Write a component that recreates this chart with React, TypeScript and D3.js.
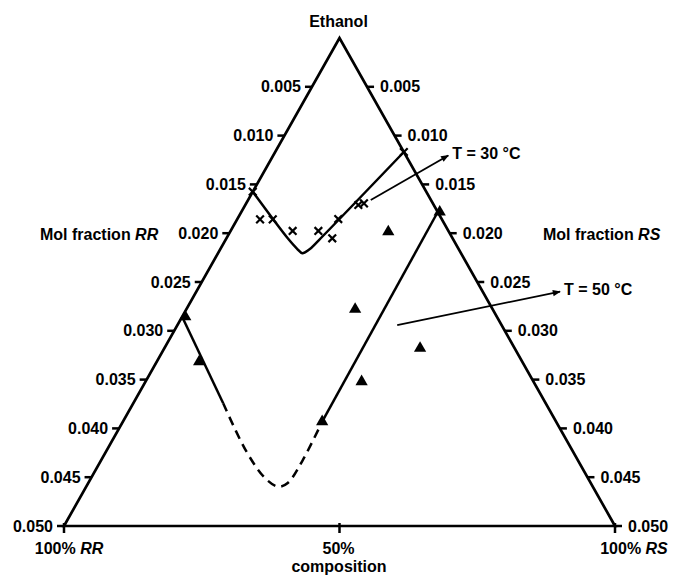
import React, { useEffect, useRef } from "react";
import * as d3 from "d3";

// ethanol mol fraction tick labels (both sloped sides)
const tickLabels = ["0.005", "0.010", "0.015", "0.020", "0.025", "0.030", "0.035", "0.040", "0.045", "0.050"];
// bottom composition axis
const baseComps = [0, 0.5, 1];
const baseLabels = [["100% ", "RR"], ["50%", ""], ["100% ", "RS"]];

// points are [fraction RS, mol fraction ethanol]
const crosses30 = [
  [0, 0.01575], [0.112, 0.01858], [0.174, 0.01858], [0.285, 0.01977], [0.403, 0.01977],
  [0.468, 0.02052], [0.494, 0.01855], [0.6, 0.01711], [0.631, 0.01694], [1, 0.01168],
];
const curve30 = [[0, 0.01575], [0.27, 0.0205], [0.322, 0.0216], [0.347, 0.02205], [0.372, 0.0217], [0.41, 0.0207], [1, 0.01168]];

const triangles50 = [
  [0.01, 0.02856], [0.116, 0.03317], [1.01, 0.01783], [0.723, 0.01985],
  [0.551, 0.0278], [0.557, 0.03521], [0.73, 0.03179], [0.46, 0.03931],
];
const curve50Left = [[0, 0.02856], [0.218, 0.03743]];
const curve50Dashed = [
  [0.218, 0.03743], [0.301, 0.04239], [0.35, 0.04508], [0.379, 0.04597],
  [0.397, 0.04559], [0.423, 0.04324], [0.46, 0.03931],
];
const curve50Right = [[0.46, 0.03931], [1, 0.01783]];

const arrowLabels = ["T = 30 ", "T = 50 "];
const arrowFrom = [[0.671, 0.0166], [0.678, 0.02941]];
const arrowTo = [[1.32, 0.01204], [1.27, 0.02599]];

const FONT = "'Liberation Sans', Arial, Helvetica, sans-serif";
const FS = 16;

export default function App() {
  const ref = useRef<SVGSVGElement>(null);

  useEffect(() => {
    const svg = d3.select(ref.current);
    svg.selectAll("*").remove();

    const apexX = 339.5, apexY = 38, left = 64, right = 615, baseY = 526;

    const y = d3.scaleLinear().domain([0, 0.05]).range([apexY, baseY]);
    const halfW = d3.scaleLinear().domain([0, 0.05]).range([0, (right - left) / 2]);
    const px = (c: number, v: number) => apexX + (c - 0.5) * 2 * halfW(v);
    const pt = (d: number[]): [number, number] => [px(d[0], d[1]), y(d[1])];

    const defs = svg.append("defs");
    defs.append("marker")
      .attr("id", "arrowhead")
      .attr("viewBox", "0 0 10 10")
      .attr("refX", 9)
      .attr("refY", 5)
      .attr("markerWidth", 10)
      .attr("markerHeight", 8)
      .attr("markerUnits", "userSpaceOnUse")
      .attr("orient", "auto")
      .append("path")
      .attr("d", "M0,1 L10,5 L0,9 Z")
      .attr("fill", "#000");

    const g = svg.append("g");

    // triangle frame
    g.append("path")
      .attr("d", `M${left},${baseY} L${apexX},${apexY} L${right},${baseY} Z`)
      .attr("fill", "none")
      .attr("stroke", "#000")
      .attr("stroke-width", 2.7)
      .attr("stroke-linejoin", "miter");

    // side ticks + labels
    tickLabels.forEach((lab) => {
      const v = +lab;
      const yy = y(v);
      const xl = px(0, v), xr = px(1, v);
      g.append("line").attr("x1", xl - 7).attr("x2", xl).attr("y1", yy).attr("y2", yy)
        .attr("stroke", "#000").attr("stroke-width", 2.5);
      g.append("line").attr("x1", xr).attr("x2", xr + 7).attr("y1", yy).attr("y2", yy)
        .attr("stroke", "#000").attr("stroke-width", 2.5);
      g.append("text").attr("x", xl - 11).attr("y", yy + 5.5).attr("text-anchor", "end").text(lab);
      g.append("text").attr("x", xr + 13).attr("y", yy + 5.5).attr("text-anchor", "start").text(lab);
    });

    // bottom ticks + labels
    const labelShift = [5, -1, 19];
    baseComps.forEach((c, i) => {
      const xx = px(c, 0.05);
      g.append("line").attr("x1", xx).attr("x2", xx).attr("y1", baseY - 3).attr("y2", baseY + 7)
        .attr("stroke", "#000").attr("stroke-width", 2.5);
      const t = g.append("text").attr("x", xx + labelShift[i]).attr("y", 554).attr("text-anchor", "middle");
      t.append("tspan").text(baseLabels[i][0]);
      if (baseLabels[i][1]) t.append("tspan").attr("font-style", "italic").text(baseLabels[i][1]);
    });

    g.selectAll("text").attr("font-family", FONT).attr("font-weight", "bold").attr("font-size", FS).attr("fill", "#000");

    const addText = (x: number, yy: number, main: string, ital: string, anchor = "middle") => {
      const t = g.append("text").attr("x", x).attr("y", yy).attr("text-anchor", anchor)
        .attr("font-family", FONT).attr("font-weight", "bold").attr("font-size", FS);
      t.append("tspan").text(main);
      if (ital) t.append("tspan").attr("font-style", "italic").text(ital);
      return t;
    };
    addText(apexX - 1, 27, "Ethanol", "");
    addText(339, 572, "composition", "");
    addText(40, 240, "Mol fraction ", "RR", "start");
    addText(543, 240, "Mol fraction ", "RS", "start");

    const straight = d3.line<number[]>().x((d) => pt(d)[0]).y((d) => pt(d)[1]);
    const smooth = d3.line<number[]>().x((d) => pt(d)[0]).y((d) => pt(d)[1])
      .curve(d3.curveCatmullRom.alpha(0.5));

    // 30 C boundary
    g.append("path").attr("d", smooth(curve30)).attr("fill", "none")
      .attr("stroke", "#000").attr("stroke-width", 2.5);

    // 50 C boundary
    [curve50Left, curve50Right].forEach((seg) => {
      g.append("path").attr("d", straight(seg)).attr("fill", "none")
        .attr("stroke", "#000").attr("stroke-width", 2.5);
    });
    g.append("path").attr("d", smooth(curve50Dashed)).attr("fill", "none")
      .attr("stroke", "#000").attr("stroke-width", 2.5).attr("stroke-dasharray", "9,6");

    // markers
    g.selectAll(".cross").data(crosses30).enter().append("path")
      .attr("class", "cross")
      .attr("transform", (d) => `translate(${pt(d)[0]},${pt(d)[1]})`)
      .attr("d", d3.symbol(d3.symbolTimes, 40)())
      .attr("fill", "none").attr("stroke", "#000").attr("stroke-width", 2.2);

    g.selectAll(".tri").data(triangles50).enter().append("path")
      .attr("class", "tri")
      .attr("transform", (d) => `translate(${pt(d)[0]},${pt(d)[1]})`)
      .attr("d", d3.symbol(d3.symbolTriangle, 65)())
      .attr("fill", "#000");

    // temperature arrows
    arrowLabels.forEach((lab, i) => {
      const a = pt(arrowFrom[i]), b = pt(arrowTo[i]);
      g.append("line").attr("x1", a[0]).attr("y1", a[1]).attr("x2", b[0]).attr("y2", b[1])
        .attr("stroke", "#000").attr("stroke-width", 1.8).attr("marker-end", "url(#arrowhead)");
      addText(b[0] + 4, b[1] + 3, lab, "", "start").append("tspan").text("\u00B0C");
    });
  }, []);

  return (
    <svg ref={ref} width={675} height={575}
      style={{ position: "absolute", left: 0, top: 0, background: "#fff" }} />
  );
}
